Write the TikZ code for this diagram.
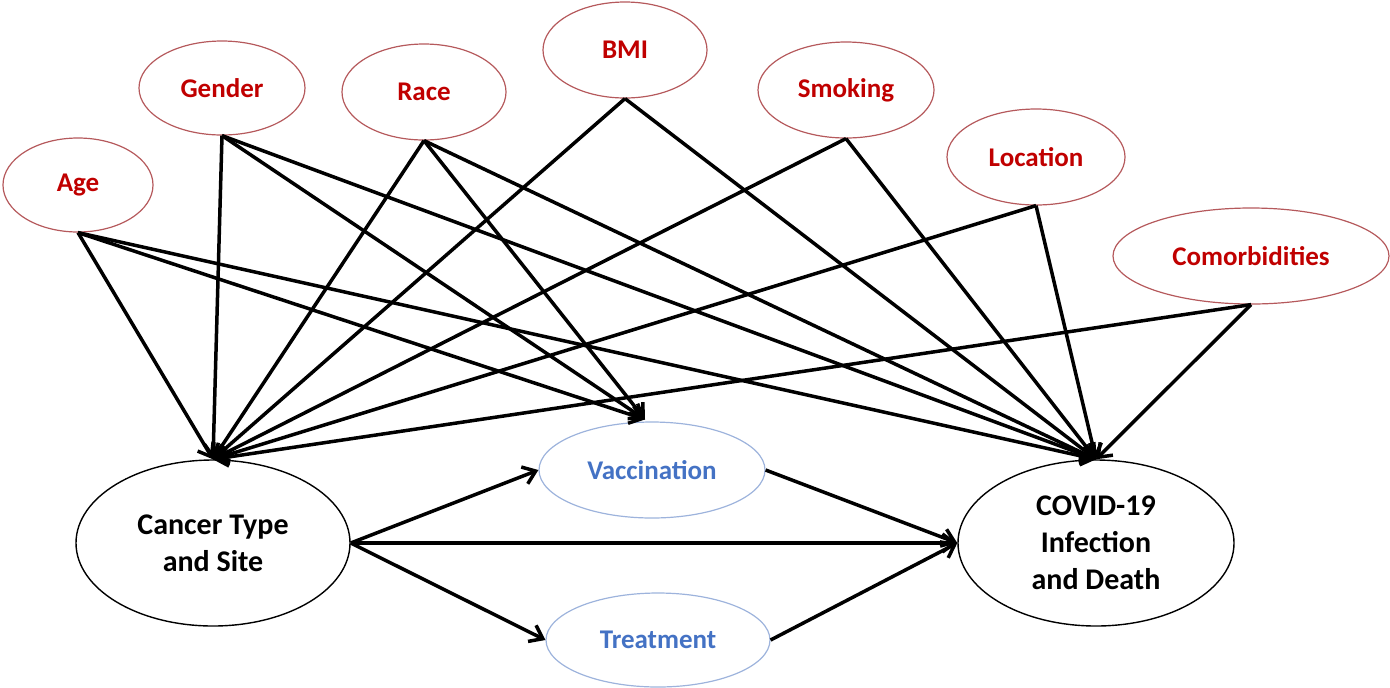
\documentclass[tikz,border=0pt]{standalone}
\usepackage{fontspec}
\setmainfont{Carlito}
\usetikzlibrary{shapes.geometric,arrows.meta}
\definecolor{confred}{HTML}{C00000}
\definecolor{confedge}{HTML}{B5595C}
\definecolor{medblue}{HTML}{4472C4}
\definecolor{medge}{HTML}{9DB3DC}
\tikzset{
  conf/.style={ellipse,draw=confedge,line width=0.6pt,inner sep=0pt,text=confred,font=\fontsize{13.5}{16}\selectfont\bfseries},
  med/.style={ellipse,draw=medge,line width=0.6pt,inner sep=0pt,text=medblue,font=\fontsize{13.5}{16}\selectfont\bfseries},
  mainnode/.style={ellipse,draw=black,line width=0.7pt,inner sep=0pt,align=center,font=\fontsize{15}{18.5}\selectfont\bfseries},
  arr/.style={line width=1.75pt,-{Straight Barb[length=6pt,width=9pt,line width=1.75pt]}},
}
\begin{document}
\begin{tikzpicture}[x=0.5pt,y=-0.5pt]
\useasboundingbox (0,0) rectangle (1390,687);
% confounders
\node[conf,minimum width=75pt,minimum height=47pt] (age) at (78,185) {Age};
\node[conf,minimum width=83pt,minimum height=47pt] (gender) at (222,88) {Gender};
\node[conf,minimum width=82pt,minimum height=48pt] (race) at (424,92) {Race};
\node[conf,minimum width=82pt,minimum height=48pt] (bmi) at (625,50) {BMI};
\node[conf,minimum width=88pt,minimum height=48pt] (smoking) at (846,90) {Smoking};
\node[conf,minimum width=89pt,minimum height=48pt] (location) at (1036,157) {Location};
\node[conf,minimum width=138pt,minimum height=48pt] (comorb) at (1251,256) {Comorbidities};
% mediators
\node[med,minimum width=113pt,minimum height=48pt] (vac) at (652,470) {Vaccination};
\node[med,minimum width=112pt,minimum height=47pt] (treat) at (658,640) {Treatment};
% main
\node[mainnode,minimum width=137pt,minimum height=83pt] (cancer) at (213,543) {Cancer Type\\and Site};
\node[mainnode,minimum width=138pt,minimum height=83pt] (covid) at (1096,543) {COVID-19\\Infection\\and Death};
\coordinate (vactop) at ([xshift=-3.5pt,yshift=1pt]vac.north);
% arrows from confounders
\foreach \s in {age,gender,race,bmi,smoking,location,comorb}{
  \draw[arr] (\s.south) -- (cancer.north);
  \draw[arr] (\s.south) -- (covid.north);
}
\foreach \s in {age,gender,race}{
  \draw[arr] (\s.south) -- (vactop);
}
% main paths
\draw[arr] (cancer.east) -- (vac.west);
\draw[arr] (cancer.east) -- (treat.west);
\draw[arr] (cancer.east) -- (covid.west);
\draw[arr] (vac.east) -- (covid.west);
\draw[arr] (treat.east) -- (covid.west);
\end{tikzpicture}
\end{document}
